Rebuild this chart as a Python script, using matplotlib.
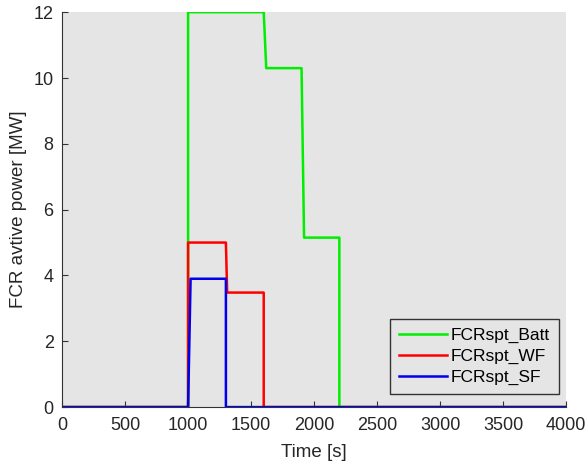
import matplotlib
matplotlib.use("Agg")
import matplotlib.pyplot as plt

plt.rcParams['font.family'] = ['Liberation Sans', 'DejaVu Sans']

# step profiles (time in s, power in MW)
t_batt = [0, 1000, 1000, 1600, 1620, 1900, 1920, 2200, 2200, 4000]
p_batt = [0, 0, 12.0, 12.0, 10.3, 10.3, 5.15, 5.15, 0, 0]

t_wf = [0, 1000, 1000, 1300, 1310, 1600, 1600, 4000]
p_wf = [0, 0, 5.0, 5.0, 3.48, 3.48, 0, 0]

t_sf = [0, 1000, 1020, 1300, 1300, 4000]
p_sf = [0, 0, 3.9, 3.9, 0, 0]

fig = plt.figure(figsize=(5.85, 4.69), dpi=100)
ax = fig.add_axes([0.106, 0.132, 0.862, 0.842])
ax.set_facecolor('#e5e5e5')

ax.plot(t_batt, p_batt, color='#00ee00', lw=1.8, label='FCRspt_Batt')
ax.plot(t_wf, p_wf, color='#ff0000', lw=1.8, label='FCRspt_WF')
ax.plot(t_sf, p_sf, color='#0000ee', lw=1.8, label='FCRspt_SF')

ax.set_xlim(0, 4000)
ax.set_ylim(0, 12)
ax.set_xticks(range(0, 4001, 500))
ax.set_yticks(range(0, 13, 2))
ax.tick_params(direction='in', labelsize=13, length=4, colors='#333333', labelcolor='#262626')
ax.tick_params(axis='x', pad=7)
ax.tick_params(axis='y', pad=6)
ax.spines['top'].set_visible(False)
ax.spines['right'].set_visible(False)
ax.spines['left'].set_color('#333333')
ax.spines['bottom'].set_color('#333333')

ax.set_xlabel('Time [s]', fontsize=13.5, color='#262626', labelpad=7)
ax.set_ylabel('FCR avtive power [MW]', fontsize=13.5, color='#262626', labelpad=5)

leg = ax.legend(loc='lower right', fontsize=12.5, fancybox=False, framealpha=1,
                facecolor='#e5e5e5', edgecolor='#333333', handlelength=2.8,
                handletextpad=0.2, borderpad=0.5, labelspacing=0.32,
                bbox_to_anchor=(1.002, 0.012))

fig.savefig('out.png', dpi=100)
